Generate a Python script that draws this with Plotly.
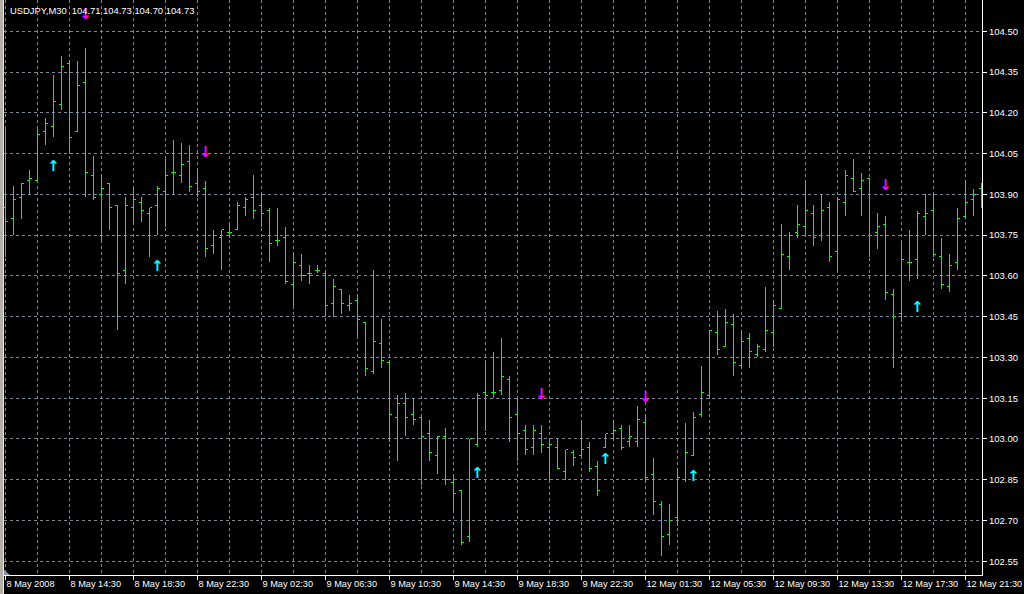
import plotly.graph_objects as go

# ---------------- data (USDJPY, M30) ----------------
x_labels = ["8 May 2008", "8 May 14:30", "8 May 18:30", "8 May 22:30",
            "9 May 02:30", "9 May 06:30", "9 May 10:30", "9 May 14:30",
            "9 May 18:30", "9 May 22:30", "12 May 01:30", "12 May 05:30",
            "12 May 09:30", "12 May 13:30", "12 May 17:30", "12 May 21:30"]
label_step = 8  # bars between time labels

open_ = [
    103.85, 103.81, 103.89, 103.95, 103.95, 104.13, 104.15, 104.23, 104.38, 104.13,
    104.31, 103.97, 103.90, 103.94, 103.86, 103.62, 103.85, 103.87, 103.83, 103.86,
    103.91, 103.98, 103.97, 104.02, 103.94, 103.92, 103.71, 103.74, 103.76, 103.77,
    103.85, 103.89, 103.86, 103.84, 103.73, 103.74, 103.57, 103.64, 103.61, 103.62,
    103.61, 103.50, 103.55, 103.49, 103.51, 103.43, 103.25, 103.35, 103.28, 103.08,
    103.13, 103.09, 103.08, 103.02, 102.94, 103.01, 102.84, 102.81, 102.64, 102.98,
    103.17, 103.17, 103.18, 103.22, 103.09, 103.03, 102.97, 103.02, 102.97, 102.97,
    102.88, 102.95, 102.94, 102.97, 102.90, 102.97, 103.02, 103.04, 102.99, 102.99,
    103.06, 102.87, 102.76, 102.65, 102.71, 102.85, 102.94, 103.09, 103.16, 103.39,
    103.34, 103.42, 103.27, 103.37, 103.31, 103.33, 103.39, 103.48, 103.67, 103.76,
    103.78, 103.83, 103.75, 103.85, 103.69, 103.87, 103.96, 103.92, 103.96, 103.76,
    103.79, 103.53, 103.46, 103.65, 103.66, 103.82, 103.84, 103.67, 103.56, 103.65,
    103.82, 103.88, 103.92]

high = [
    104.14, 103.93, 103.94, 103.99, 104.14, 104.18, 104.34, 104.41, 104.39, 104.39,
    104.44, 104.04, 103.97, 103.94, 103.86, 103.89, 103.92, 103.89, 103.85, 103.93,
    104.03, 104.10, 104.09, 104.08, 103.99, 103.95, 103.77, 103.77, 103.79, 103.87,
    103.89, 103.97, 103.90, 103.85, 103.85, 103.78, 103.68, 103.68, 103.64, 103.64,
    103.62, 103.59, 103.55, 103.53, 103.53, 103.43, 103.62, 103.44, 103.29, 103.16,
    103.17, 103.15, 103.08, 103.07, 103.01, 103.04, 102.86, 102.81, 103.00, 103.17,
    103.28, 103.32, 103.37, 103.23, 103.15, 103.05, 103.05, 103.05, 103.00, 103.00,
    102.96, 102.96, 103.06, 102.99, 102.92, 103.02, 103.07, 103.05, 103.05, 103.12,
    103.09, 102.93, 102.77, 102.76, 102.89, 103.06, 103.10, 103.27, 103.40, 103.47,
    103.48, 103.46, 103.40, 103.39, 103.35, 103.56, 103.51, 103.79, 103.76, 103.86,
    103.94, 103.86, 103.90, 103.87, 103.89, 103.99, 104.03, 103.98, 103.96, 103.83,
    103.82, 103.55, 103.72, 103.77, 103.84, 103.90, 103.90, 103.74, 103.68, 103.85,
    103.95, 103.92, 103.94]

low = [
    103.67, 103.75, 103.81, 103.90, 103.95, 104.08, 104.11, 104.21, 104.05, 104.13,
    103.89, 103.88, 103.73, 103.77, 103.40, 103.57, 103.80, 103.80, 103.67, 103.75,
    103.78, 103.90, 103.94, 103.91, 103.89, 103.67, 103.68, 103.62, 103.74, 103.77,
    103.82, 103.81, 103.78, 103.65, 103.71, 103.57, 103.49, 103.58, 103.57, 103.61,
    103.45, 103.45, 103.46, 103.47, 103.38, 103.23, 103.24, 103.26, 102.99, 102.92,
    103.01, 103.05, 102.83, 102.92, 102.87, 102.83, 102.74, 102.61, 102.62, 102.97,
    103.03, 103.15, 103.16, 102.99, 102.92, 102.94, 102.94, 102.95, 102.85, 102.89,
    102.85, 102.90, 102.94, 102.88, 102.79, 102.97, 103.00, 102.96, 102.97, 102.97,
    102.84, 102.72, 102.57, 102.61, 102.68, 102.84, 102.94, 103.08, 103.15, 103.31,
    103.34, 103.23, 103.26, 103.26, 103.30, 103.32, 103.34, 103.48, 103.62, 103.74,
    103.75, 103.71, 103.73, 103.65, 103.62, 103.82, 103.91, 103.82, 103.67, 103.70,
    103.51, 103.26, 103.43, 103.58, 103.59, 103.75, 103.67, 103.55, 103.54, 103.62,
    103.81, 103.82, 103.85]

close = [
    103.80, 103.88, 103.94, 103.96, 104.12, 104.16, 104.24, 104.37, 104.11, 104.30,
    103.98, 103.89, 103.92, 103.85, 103.61, 103.86, 103.88, 103.84, 103.85, 103.92,
    103.97, 103.98, 104.01, 103.93, 103.91, 103.70, 103.75, 103.77, 103.76, 103.86,
    103.88, 103.84, 103.83, 103.72, 103.73, 103.58, 103.65, 103.60, 103.61, 103.62,
    103.49, 103.56, 103.50, 103.50, 103.44, 103.26, 103.36, 103.29, 103.09, 103.13,
    103.08, 103.07, 103.01, 102.95, 103.01, 102.85, 102.80, 102.62, 103.00, 103.16,
    103.16, 103.17, 103.23, 103.08, 103.02, 102.96, 103.03, 102.98, 102.98, 102.89,
    102.96, 102.93, 102.96, 102.89, 102.81, 103.02, 103.03, 102.97, 103.01, 103.07,
    102.86, 102.77, 102.64, 102.70, 102.86, 102.95, 103.08, 103.17, 103.40, 103.33,
    103.43, 103.28, 103.36, 103.32, 103.34, 103.40, 103.49, 103.68, 103.75, 103.79,
    103.84, 103.74, 103.84, 103.67, 103.88, 103.97, 103.91, 103.95, 103.75, 103.78,
    103.54, 103.45, 103.66, 103.65, 103.83, 103.83, 103.68, 103.57, 103.64, 103.81,
    103.87, 103.90, 103.92]

# signal arrows (bar index, price level)
up_idx = [6, 19, 59, 75, 86, 114]
up_price = [104.00, 103.63, 102.87, 102.92, 102.86, 103.48]
down_idx = [10, 25, 67, 80, 110]
down_price = [104.56, 104.05, 103.16, 103.15, 103.93]

title_text = "USDJPY,M30\u00a0\u00a0104.71 104.73 104.70 104.73"

# ---------------- styling ----------------
BAR = "#00FF00"
GRID = "#778899"
FONT = "Liberation Sans"
W, H = 1024, 594
ML, MR, MT, MB = 4, 42, 0, 19
PW, PH = W - ML - MR, H - MT - MB
BAR_PX = 8.0  # pixels per bar
X0 = -1.5 / BAR_PX  # so bar centres fall on pixel centres
X1 = X0 + PW / BAR_PX

idx = list(range(len(open_)))
tick_idx = list(range(0, len(x_labels) * label_step, label_step))

fig = go.Figure()
fig.add_trace(go.Ohlc(
    x=idx, open=open_, high=high, low=low, close=close,
    increasing=dict(line=dict(color=BAR, width=1)),
    decreasing=dict(line=dict(color=BAR, width=1)),
    tickwidth=0.3, hoverinfo="skip", showlegend=False))

fig.add_trace(go.Scatter(
    x=up_idx, y=up_price, mode="text", text=["\u2191"] * len(up_idx),
    textposition="middle center",
    textfont=dict(color="#00FFFF", size=15, family="DejaVu Sans", weight="bold"),
    hoverinfo="skip", showlegend=False))
fig.add_trace(go.Scatter(
    x=down_idx, y=down_price, mode="text", text=["\u2193"] * len(down_idx),
    textposition="middle center",
    textfont=dict(color="#FF00FF", size=15, family="DejaVu Sans", weight="bold"),
    hoverinfo="skip", showlegend=False))

xtickfont = dict(color="white", family=FONT, size=9.2)
ytickfont = dict(color="white", family=FONT, size=9.5)

fig.update_layout(
    width=W, height=H,
    margin=dict(l=ML, r=MR, t=MT, b=MB, pad=0, autoexpand=False),
    paper_bgcolor="black", plot_bgcolor="black", showlegend=False,
    xaxis=dict(
        range=[X0, X1], rangeslider=dict(visible=False),
        tickmode="array", tickvals=tick_idx, ticktext=x_labels, tickangle=0,
        ticks="outside", ticklen=4, tickcolor="white", tickwidth=1,
        ticklabelposition="outside right", ticklabeloverflow="allow",
        showline=True, linecolor="white", linewidth=1,
        showgrid=True, gridcolor=GRID, griddash="3px,3px", gridwidth=1,
        minor=dict(tickmode="linear", tick0=0, dtick=4, showgrid=True,
                   gridcolor=GRID, griddash="3px,3px", gridwidth=1, ticks=""),
        zeroline=False, tickfont=xtickfont, automargin=False, fixedrange=True),
    yaxis=dict(
        side="right", range=[102.4995, 104.615],
        tickmode="linear", tick0=102.55, dtick=0.15, tickformat=".2f",
        ticks="outside", ticklen=4, tickcolor="white", tickwidth=1,
        showline=True, linecolor="white", linewidth=1,
        showgrid=True, gridcolor=GRID, griddash="3px,3px", gridwidth=1,
        zeroline=False, tickfont=ytickfont, automargin=False, fixedrange=True),
    annotations=[dict(
        text=title_text, xref="paper", yref="paper",
        x=(8 - ML) / PW, y=1 - 11 / PH, xanchor="left", yanchor="middle",
        showarrow=False, font=dict(color="white", family=FONT, size=9.4))],
    shapes=[
        dict(type="rect", xref="paper", yref="paper", layer="above",
             x0=-ML / PW, x1=(3 - ML) / PW, y0=-MB / PH, y1=1,
             fillcolor="#b4b0a8", line=dict(width=0)),
        dict(type="rect", xref="paper", yref="paper", layer="above",
             x0=(3 - ML) / PW, x1=0, y0=-MB / PH, y1=1,
             fillcolor="#e8e8e8", line=dict(width=0)),
        dict(type="path", xref="paper", yref="paper", layer="above",
             path=f"M 0,0 L 0,{5 / PH} L {6 / PW},0 Z",
             fillcolor="#8896a8", line=dict(width=0)),
    ],
)

fig.write_html(
    "out.html",
    config={"displayModeBar": False},
    post_script=(
        "document.body.style.margin='0';"
        "document.body.style.background='black';"
        "document.querySelectorAll('g.ohlc path, .ohlclayer path').forEach(function(p){"
        "p.style.shapeRendering='crispEdges';});"))
